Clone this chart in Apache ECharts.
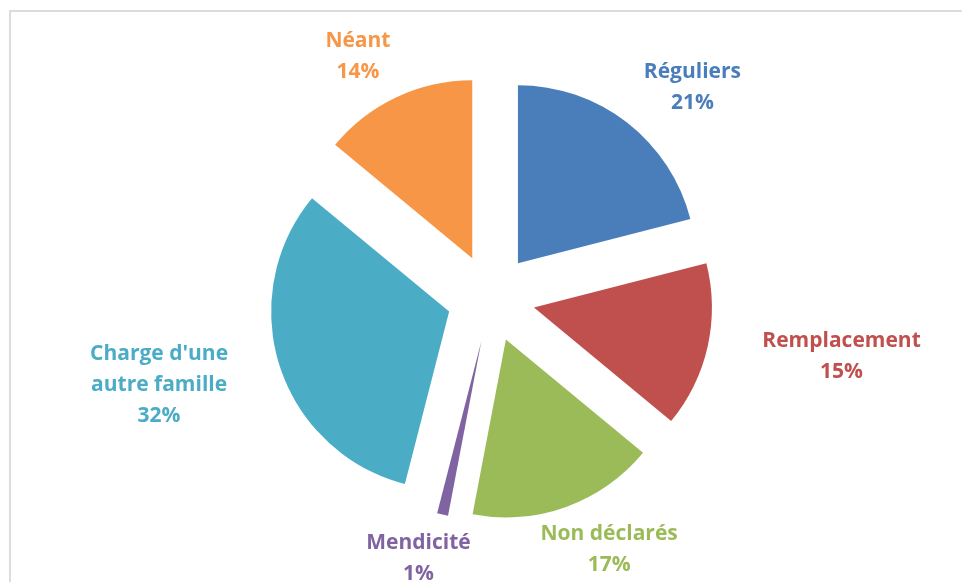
<!DOCTYPE html>
<html lang="fr">
<head>
    <meta charset="UTF-8">
    <title>Répartition des ressources</title>
    <script src="https://cdn.jsdelivr.net/npm/echarts@6/dist/echarts.min.js"></script>
    <style>
        body { margin: 0; background: #fff; }
        #cadre { position: absolute; left: 9px; top: 10px; width: 970px; height: 590px;
                 border-top: 2px solid #dcdcdc; border-left: 2px solid #dcdcdc; }
        #chartmain { position: absolute; left: 0; top: 0; width: 962px; height: 582px; }
    </style>
</head>
<body>
<div id="cadre"></div>
<div id="chartmain"></div>
<script type="text/javascript">
    // categories et valeurs (%)
    var categories = ['Réguliers', 'Remplacement', 'Non déclarés', 'Mendicité', "Charge d'une\nautre famille", 'Néant'];
    var valeurs = [21, 15, 17, 1, 32, 14];
    var couleurs = ['#4A7EBB', '#C0504D', '#9BBB59', '#8064A2', '#4BACC6', '#F79646'];

    var cx = 491, cy = 298, rayon = 178, decalage = 44;
    var distX = 280, distY = 236;   // position des étiquettes
    var police = 'bold 21px "Open Sans"', interligne = 31;
    var total = valeurs.reduce(function (a, b) { return a + b; }, 0);

    // angle milieu de chaque part (depuis midi, sens horaire)
    function angleMilieu(i) {
        var cumul = 0;
        for (var k = 0; k < i; k++) cumul += valeurs[k];
        return (cumul + valeurs[i] / 2) / total * 2 * Math.PI;
    }

    var ctx = document.createElement('canvas').getContext('2d');
    ctx.font = police;

    var donnees = [], etiquettes = [];
    for (var i = 0; i < categories.length; i++) {
        donnees.push({
            name: categories[i],
            value: valeurs[i],
            selected: true,
            itemStyle: { color: couleurs[i] }
        });
        var texte = categories[i] + '\n' + Math.round(valeurs[i] / total * 100) + '%';
        var lignes = texte.split('\n');
        var w = 0;
        lignes.forEach(function (l) { w = Math.max(w, ctx.measureText(l).width); });
        var h = lignes.length * interligne;
        var a = angleMilieu(i), sx = Math.sin(a), sy = -Math.cos(a);
        etiquettes.push({
            type: 'text',
            x: cx + distX * sx + sx * w / 2,
            y: cy + distY * sy + sy * h / 2,
            silent: true,
            style: {
                text: texte,
                font: police,
                lineHeight: interligne,
                fill: couleurs[i],
                align: 'center',
                verticalAlign: 'middle'
            }
        });
    }

    var option = {
        animation: false,
        graphic: etiquettes,
        series: [{
            type: 'pie',
            center: [cx, cy],
            radius: rayon,
            startAngle: 90,
            clockwise: true,
            selectedMode: 'multiple',
            selectedOffset: decalage,
            emphasis: { disabled: true },
            label: { show: false },
            labelLine: { show: false },
            data: donnees
        }]
    };

    var myChart = echarts.init(document.getElementById('chartmain'));
    myChart.setOption(option);
</script>
</body>
</html>
